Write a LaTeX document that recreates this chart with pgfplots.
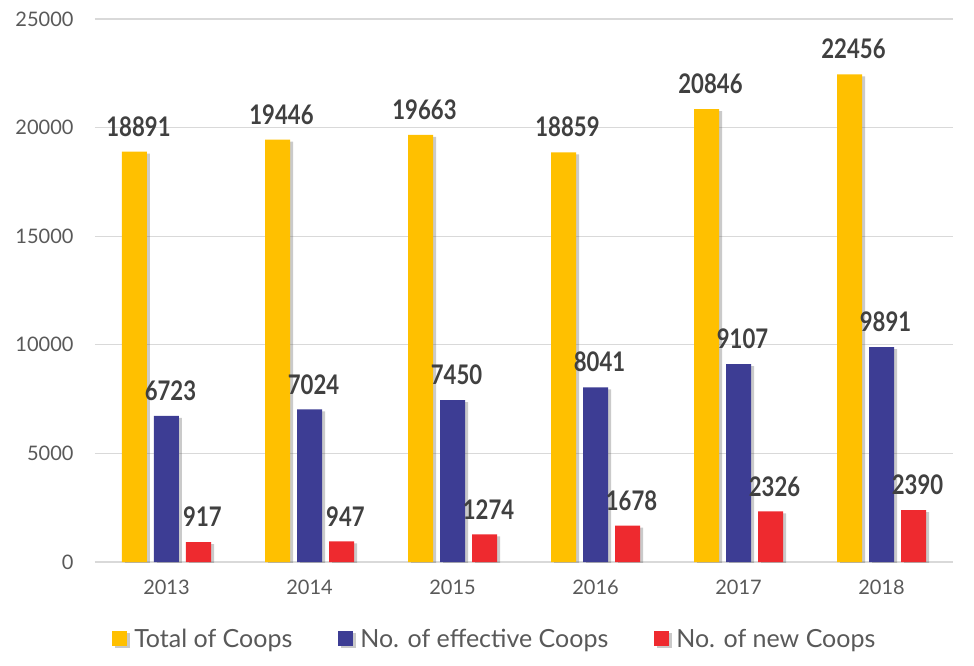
\documentclass[border=0pt]{standalone}
\usepackage{fontspec}
\setmainfont{Lato}
\newfontfamily\labfont[FakeStretch=0.82]{Lato}
\usepackage{pgfplots}
\pgfplotsset{compat=1.18}
\usetikzlibrary{shadows}
\definecolor{cyel}{HTML}{FFC000}
\definecolor{cblu}{HTML}{3D3D94}
\definecolor{cred}{HTML}{EE2A2F}
\definecolor{tickc}{HTML}{595959}
\definecolor{labc}{HTML}{404040}
\definecolor{gridc}{HTML}{D9D9D9}
\begin{document}
\begin{tikzpicture}
\begin{axis}[
  at={(0,0)}, anchor=south west,
  scale only axis, width=858pt, height=543pt,
  xmin=-0.5, xmax=5.5, ymin=0, ymax=25000,
  xtick={0,1,2,3,4,5},
  xticklabels={2013,2014,2015,2016,2017,2018},
  ytick={0,5000,10000,15000,20000,25000},
  ymajorgrids, grid style={gridc, line width=1.2pt},
  axis line style={draw=none},
  major tick length=0pt,
  tick label style={font=\fontsize{20}{23}\selectfont, text=tickc},
  yticklabel style={xshift=-18pt},
  xticklabel style={yshift=-14pt},
  /pgf/number format/assume math mode=true,
  /pgf/number format/set thousands separator={},
  scaled y ticks=false,
  ybar=7pt, bar width=25pt,
  nodes near coords,
  every node near coord/.append style={font=\labfont\bfseries\fontsize{27}{30}\selectfont, text=labc, inner sep=0pt, yshift=15pt, xshift=4pt, /pgf/number format/set thousands separator={}, /pgf/number format/assume math mode=true},
  legend style={at={(0.466,-0.142)}, anchor=center, draw=none, legend columns=3, font=\fontsize{25}{28}\selectfont, text=tickc, /tikz/every even column/.append style={column sep=44pt}},
  legend image code/.code={\fill[#1] (0pt,-7pt) rectangle (15pt,8pt); \path (20pt,0pt);},
  every axis plot/.append style={draw=none, drop shadow={shadow xshift=3pt, shadow yshift=-2pt, opacity=0.35, fill=black!60}},
]
\addplot[fill=cyel] coordinates {(0,18891) (1,19446) (2,19663) (3,18859) (4,20846) (5,22456)};
\addplot[fill=cblu] coordinates {(0,6723) (1,7024) (2,7450) (3,8041) (4,9107) (5,9891)};
\addplot[fill=cred] coordinates {(0,917) (1,947) (2,1274) (3,1678) (4,2326) (5,2390)};
\legend{Total of Coops, No. of effective Coops, No. of new Coops}
\end{axis}
\pgfresetboundingbox
\path[use as bounding box] (-95pt,-103pt) rectangle (879pt,562pt);
\end{tikzpicture}
\end{document}
